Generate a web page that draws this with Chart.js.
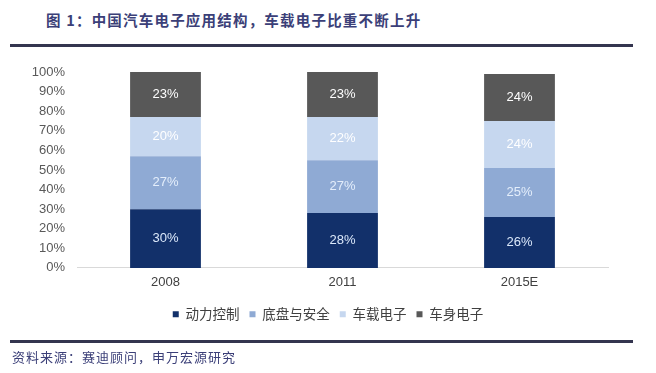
<!DOCTYPE html>
<html>
<head>
<meta charset="utf-8">
<script src="https://cdn.jsdelivr.net/npm/chart.js@4"></script>
<style>
  html, body { margin:0; padding:0; background:#fff; }
  #wrap { position:relative; width:656px; height:373px; overflow:hidden; }
  #title { position:absolute; left:46px; top:9px; font-family:"Noto Sans CJK SC", sans-serif; font-weight:bold; font-size:14.5px; letter-spacing:1.2px; color:#3b3f78; white-space:nowrap; }
  .rule { position:absolute; left:10px; width:623px; height:3px; background:#34354f; }
  #footer { position:absolute; left:12px; top:347px; font-family:"Noto Sans CJK SC", sans-serif; font-size:13px; letter-spacing:1px; color:#3b3f78; white-space:nowrap; }
  canvas { position:absolute; left:0; top:0; }
</style>
</head>
<body>
<div id="wrap">
  <div id="title">图 1：中国汽车电子应用结构，车载电子比重不断上升</div>
  <div class="rule" style="top:44px"></div>
  <canvas id="c" width="656" height="373"></canvas>
  <div class="rule" style="top:340px"></div>
  <div id="footer">资料来源：赛迪顾问，申万宏源研究</div>
</div>
<script>
const categories = ['2008', '2011', '2015E'];
const seriesNames = ['动力控制', '底盘与安全', '车载电子', '车身电子'];
const powerControl = [30, 28, 26];
const chassisSafety = [27, 27, 25];
const infotainment = [20, 22, 24];
const bodyElectronics = [23, 23, 24];
const yTicks = [0, 10, 20, 30, 40, 50, 60, 70, 80, 90, 100];

const colors = ['#12306a', '#8faad4', '#c6d7ef', '#585858'];
const labelColors = ['#dbe8fa', '#e4eefb', '#ffffff', '#ffffff'];
const seriesData = [powerControl, chassisSafety, infotainment, bodyElectronics];

const font = "'Liberation Sans', Arial, sans-serif";

const barLabels = {
  id: 'barLabels',
  afterDatasetsDraw(chart) {
    const ctx = chart.ctx;
    ctx.save();
    ctx.font = '13px ' + font;
    ctx.textAlign = 'center';
    ctx.textBaseline = 'middle';
    chart.data.datasets.forEach((ds, i) => {
      const meta = chart.getDatasetMeta(i);
      meta.data.forEach((bar, j) => {
        const p = bar.getProps(['x', 'y', 'base'], true);
        ctx.fillStyle = labelColors[i];
        ctx.fillText(ds.data[j] + '%', p.x, (p.y + p.base) / 2);
      });
    });
    ctx.restore();
  }
};

new Chart(document.getElementById('c'), {
  type: 'bar',
  data: {
    labels: categories,
    datasets: seriesNames.map((n, i) => ({
      label: n,
      data: seriesData[i],
      backgroundColor: colors[i],
      borderWidth: 0,
      barPercentage: 0.4,
      categoryPercentage: 1
    }))
  },
  options: {
    responsive: false,
    animation: false,
    layout: { padding: { left: 0, right: 0, top: 72, bottom: 42 } },
    plugins: {
      tooltip: { enabled: false },
      legend: {
        position: 'bottom',
        labels: {
          boxWidth: 6, boxHeight: 6, padding: 10,
          color: '#404040',
          font: { family: "'Noto Sans CJK SC', sans-serif", size: 13.5 }
        }
      }
    },
    scales: {
      x: {
        stacked: true,
        grid: { display: false, drawTicks: false },
        border: { display: true, color: '#d9d9d9', width: 1 },
        ticks: { color: '#404040', font: { family: font, size: 13 }, padding: 7 }
      },
      y: {
        stacked: true,
        min: 0, max: 100,
        afterBuildTicks(s) { s.ticks = yTicks.map(v => ({ value: v })); },
        afterFit(s) { s.width = 77; },
        grid: { display: false, drawTicks: false },
        border: { display: false },
        ticks: { color: '#595959', font: { family: font, size: 13 }, padding: 12, callback: v => v + '%' }
      },
      yRight: {
        position: 'right',
        display: true,
        grid: { display: false, drawTicks: false },
        border: { display: false },
        ticks: { display: false },
        afterFit(s) { s.width = 48; }
      }
    }
  },
  plugins: [barLabels]
});
</script>
</body>
</html>
